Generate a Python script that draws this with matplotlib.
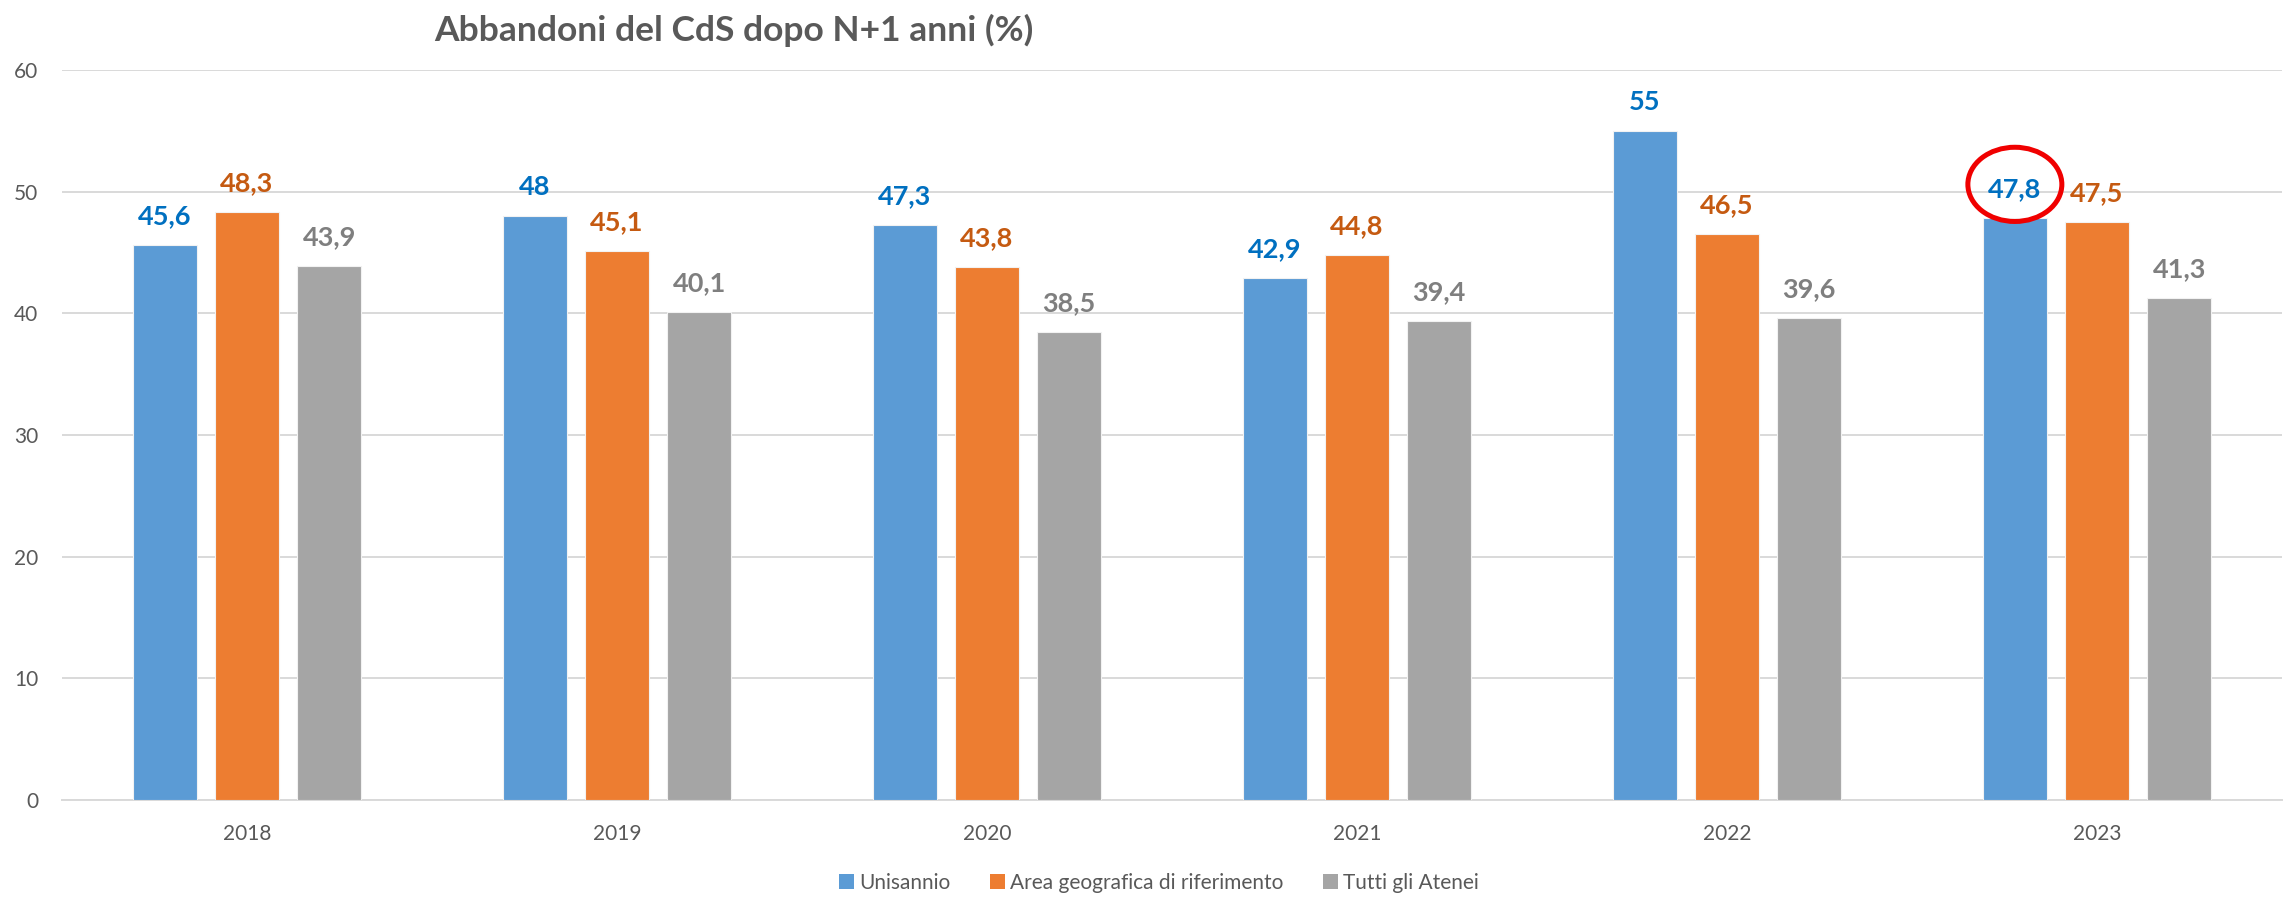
import numpy as np
import matplotlib.pyplot as plt
from matplotlib.patches import Ellipse, Patch

# Data
years = ["2018", "2019", "2020", "2021", "2022", "2023"]
unisannio = [45.6, 48, 47.3, 42.9, 55, 47.8]
area_geo = [48.3, 45.1, 43.8, 44.8, 46.5, 47.5]
tutti = [43.9, 40.1, 38.5, 39.4, 39.6, 41.3]
series_names = ["Unisannio", "Area geografica di riferimento", "Tutti gli Atenei"]

bar_colors = ["#5B9BD5", "#ED7D31", "#A5A5A5"]
label_colors = ["#0070C0", "#C55A11", "#7F7F7F"]

plt.rcParams['font.family'] = ['Lato', 'DejaVu Sans']

fig = plt.figure(figsize=(22.93, 8.98), dpi=100)
ax = fig.add_axes([62 / 2293, 98 / 898, (2282 - 62) / 2293, 730 / 898])

x = np.arange(len(years))
width = 0.173
step = 0.222

for i, (vals, col, lcol) in enumerate(zip([unisannio, area_geo, tutti], bar_colors, label_colors)):
    pos = x + (i - 1) * step
    ax.bar(pos, vals, width, color=col, edgecolor="#F2F2F2", linewidth=0.8, zorder=3)
    for px, v in zip(pos, vals):
        ax.annotate(f"{v:g}".replace(".", ","), (px, v), xytext=(0, 15),
                    textcoords="offset points", ha="center", va="baseline",
                    fontsize=19.5, fontweight="bold", color=lcol, zorder=4)

# red circle around the last Unisannio label
last = len(years) - 1
ax.add_patch(Ellipse((x[last] - step, unisannio[last] + 2.8), 0.254, 6.1,
                     fill=False, edgecolor="#F00000", linewidth=3.6,
                     clip_on=False, zorder=5))

ax.set_xlim(-0.5, len(years) - 0.5)
ax.set_ylim(0, 60)
ax.set_yticks(range(0, 61, 10))
ax.set_xticks(x)
ax.set_xticklabels(years)
ax.yaxis.grid(True, color="#D9D9D9", linewidth=1.4, zorder=0)
ax.set_axisbelow(True)
for s in ["top", "right", "left"]:
    ax.spines[s].set_visible(False)
ax.spines["bottom"].set_color("#D9D9D9")
ax.spines["bottom"].set_linewidth(1.4)
ax.tick_params(axis="both", length=0, labelsize=15, labelcolor="#595959")
ax.tick_params(axis="x", pad=17)
ax.tick_params(axis="y", pad=17)

fig.text(0.320, 1 - 41 / 898, "Abbandoni del CdS dopo N+1 anni (%)", ha="center", va="baseline",
         fontsize=25.5, fontweight="bold", color="#595959")

handles = [Patch(facecolor=c, edgecolor="none") for c in bar_colors]
fig.legend(handles, series_names, loc="center", bbox_to_anchor=(0.5055, 0.017),
           ncol=3, frameon=False, fontsize=15, labelcolor="#595959",
           handlelength=0.72, handleheight=0.72, handletextpad=0.25, columnspacing=1.9)

plt.savefig("out.png", dpi=100)
